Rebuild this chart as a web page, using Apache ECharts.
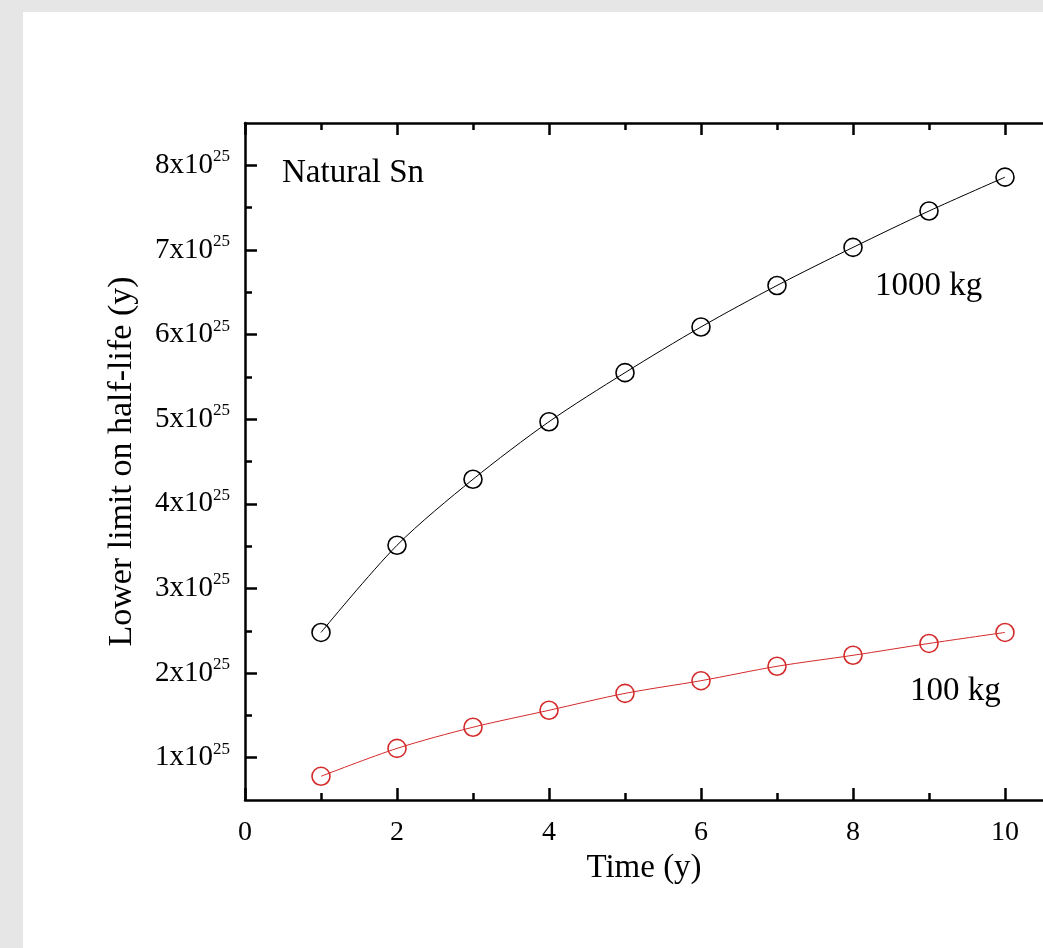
<!DOCTYPE html>
<html>
<head>
<meta charset="utf-8">
<title>Natural Sn half-life limit</title>
<script src="https://cdn.jsdelivr.net/npm/echarts@6/dist/echarts.min.js"></script>
<style>
  html, body { margin: 0; padding: 0; background: #e6e6e6; overflow: hidden; }
  #chart { position: absolute; left: 23px; top: 12px; width: 1020px; height: 936px; background: #fff; }
</style>
</head>
<body>
<div id="chart"></div>
<script>
// time in years
var years = [1, 2, 3, 4, 5, 6, 7, 8, 9, 10];
// lower limit on half-life, units of 1e25 y
var limit1000kg = [2.48, 3.51, 4.29, 4.97, 5.55, 6.09, 6.58, 7.03, 7.46, 7.86];
var limit100kg = [0.78, 1.11, 1.36, 1.56, 1.76, 1.91, 2.08, 2.21, 2.35, 2.48];

var xMajor = [0, 2, 4, 6, 8, 10];
var xMinor = [1, 3, 5, 7, 9];
var yMajor = [1, 2, 3, 4, 5, 6, 7, 8];
var yMinor = [1.5, 2.5, 3.5, 4.5, 5.5, 6.5, 7.5];

var font = '"Liberation Serif", "DejaVu Serif", serif';

function pairs(xs, ys) {
  return xs.map(function (x, i) { return [x, ys[i]]; });
}

var myChart = echarts.init(document.getElementById('chart'));

var xBase = { type: 'value', min: 0, max: 10.5, gridIndex: 0, splitLine: { show: false } };
var yBase = { type: 'value', min: 0.5, max: 8.5, gridIndex: 0, splitLine: { show: false } };
var line = { show: true, lineStyle: { color: '#000', width: 2.5 } };
var noLine = { show: false };
function ticks(vals, len) {
  return { show: true, inside: true, length: len, customValues: vals, lineStyle: { color: '#000', width: 2.5 } };
}

var option = {
  animation: false,
  grid: { left: 222, top: 111, width: 805, height: 677, containLabel: false },
  xAxis: [
    Object.assign({}, xBase, {
      position: 'bottom',
      name: 'Time (y)', nameLocation: 'middle', nameGap: 49,
      nameTextStyle: { fontFamily: font, fontSize: 33, color: '#000' },
      axisLine: line,
      axisTick: ticks(xMajor, 12),
      axisLabel: { customValues: xMajor, margin: 19, fontFamily: font, fontSize: 28, color: '#000' }
    }),
    Object.assign({}, xBase, { position: 'bottom', axisLine: noLine, axisTick: ticks(xMinor, 7), axisLabel: { show: false } }),
    Object.assign({}, xBase, { position: 'top', axisLine: line, axisTick: ticks(xMajor, 12), axisLabel: { show: false } }),
    Object.assign({}, xBase, { position: 'top', axisLine: noLine, axisTick: ticks(xMinor, 7), axisLabel: { show: false } })
  ],
  yAxis: [
    Object.assign({}, yBase, {
      position: 'left',
      name: 'Lower limit on half-life (y)', nameLocation: 'middle', nameGap: 106,
      nameTextStyle: { fontFamily: font, fontSize: 34, color: '#000' },
      axisLine: line,
      axisTick: ticks(yMajor, 12),
      axisLabel: {
        customValues: yMajor, margin: 15, color: '#000',
        formatter: function (v) { return '{b|' + v + 'x10}{s|25}'; },
        rich: {
          b: { fontFamily: font, fontSize: 29, color: '#000' },
          s: { fontFamily: font, fontSize: 17, color: '#000', padding: [0, 0, 17, 0] }
        }
      }
    }),
    Object.assign({}, yBase, { position: 'left', axisLine: noLine, axisTick: ticks(yMinor, 7), axisLabel: { show: false } })
  ],
  series: [
    {
      name: '1000 kg', type: 'line', xAxisIndex: 0, yAxisIndex: 0,
      data: pairs(years, limit1000kg), smooth: 0.3,
      symbol: 'circle', symbolSize: 18, showAllSymbol: true,
      lineStyle: { color: '#000', width: 1 },
      itemStyle: { color: 'rgba(255,255,255,0)', borderColor: '#000', borderWidth: 1.6 },
      z: 3
    },
    {
      name: '100 kg', type: 'line', xAxisIndex: 0, yAxisIndex: 0,
      data: pairs(years, limit100kg), smooth: 0.3,
      symbol: 'circle', symbolSize: 18, showAllSymbol: true,
      lineStyle: { color: '#d42a2a', width: 1 },
      itemStyle: { color: 'rgba(255,255,255,0)', borderColor: '#d42a2a', borderWidth: 1.6 },
      z: 3
    }
  ],
  graphic: [
    { type: 'text', left: 259, top: 145, style: { text: 'Natural Sn', font: '33px ' + font, fill: '#000' } },
    { type: 'text', left: 852, top: 258, style: { text: '1000 kg', font: '33px ' + font, fill: '#000' } },
    { type: 'text', left: 887, top: 663, style: { text: '100 kg', font: '33px ' + font, fill: '#000' } }
  ]
};

myChart.setOption(option);
</script>
</body>
</html>
